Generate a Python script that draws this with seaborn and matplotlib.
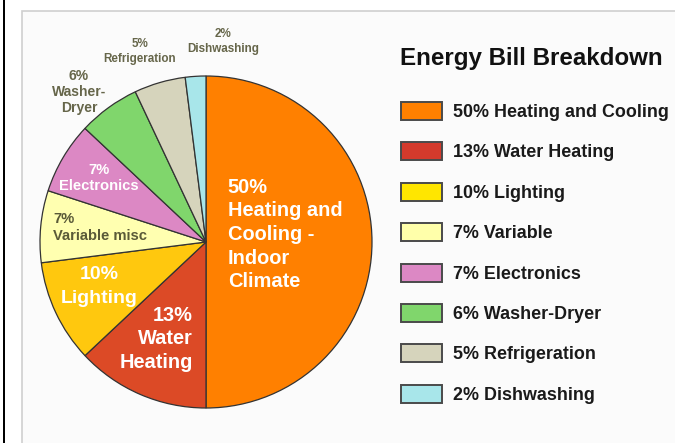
import matplotlib
matplotlib.use("Agg")
import matplotlib.pyplot as plt
from matplotlib.patches import Patch, Rectangle
import seaborn as sns

# data
categories = ["Heating and Cooling", "Water Heating", "Lighting", "Variable",
              "Electronics", "Washer-Dryer", "Refrigeration", "Dishwashing"]
shares = [50, 13, 10, 7, 7, 6, 5, 2]
pie_labels = ["50%\nHeating and\nCooling -\nIndoor\nClimate", "13%\nWater\nHeating",
              "10%\nLighting", "7%\nVariable misc", "7%\nElectronics",
              "6%\nWasher-\nDryer", "5%\nRefrigeration", "2%\nDishwashing"]
legend_labels = ["50% Heating and Cooling", "13% Water Heating", "10% Lighting",
                 "7% Variable", "7% Electronics", "6% Washer-Dryer",
                 "5% Refrigeration", "2% Dishwashing"]
title = "Energy Bill Breakdown"

sns.set_style("white")
plt.rcParams["font.family"] = ["Liberation Sans", "DejaVu Sans"]

pie_colors = sns.color_palette(["#ff8000", "#dc4a26", "#ffc80e", "#ffffb0",
                                "#dc88c4", "#80d66c", "#d6d4bc", "#a8e6ea"])
legend_colors = sns.color_palette(["#ff8000", "#d43a2c", "#ffe600", "#ffffaa",
                                   "#dc88c4", "#80d66c", "#d6d4bc", "#a8e6ea"])

W, H = 675, 443
fig = plt.figure(figsize=(W / 100, H / 100), dpi=100)
fig.patch.set_facecolor("white")

# page frame: gray panel and dark left rule
fig.patches.append(Rectangle((22 / W, -0.05), 1.1, (H - 11) / H + 0.05,
                             transform=fig.transFigure, facecolor="#fbfbfb",
                             edgecolor="#cfcfcf", linewidth=1.2, zorder=-2))
fig.patches.append(Rectangle((3 / W, 0), 2.2 / W, 1, transform=fig.transFigure,
                             facecolor="black", edgecolor="none", zorder=-2))

cx, cy, r = 206, 242, 166
ax = fig.add_axes([(cx - r) / W, (H - cy - r) / H, 2 * r / W, 2 * r / H])
ax.set_facecolor("none")
ax.set_zorder(1)
wedges, _ = ax.pie(shares, colors=pie_colors, startangle=90, counterclock=False,
                   wedgeprops=dict(edgecolor="#333333", linewidth=0.9))
ax.set_xlim(-1, 1)
ax.set_ylim(-1, 1)
ax.axis("off")

# label placement in pie radius units
label_pos = [(0.476, 0.045), (-0.078, -0.584), (-0.641, -0.268), (-0.922, 0.087),
             (-0.647, 0.385), (-0.765, 0.904), (-0.398, 1.15), (0.102, 1.207)]
label_ha = ["center", "right", "center", "left", "center", "center", "center", "center"]
label_ma = ["left", "right", "center", "left", "center", "center", "center", "center"]
label_col = ["white", "white", "white", "#5a5a38", "white", "#66664a", "#66664a", "#66664a"]
label_size = [14.4, 14.4, 14, 10.6, 10.6, 10, 8.4, 8.4]
label_ls = [1.31, 1.32, 1.47, 1.32, 1.25, 1.22, 1.33, 1.35]
for txt, (x, y), ha, ma, c, s, ls in zip(pie_labels, label_pos, label_ha, label_ma,
                                         label_col, label_size, label_ls):
    ax.text(x, y, txt, ha=ha, va="center", multialignment=ma, color=c,
            fontsize=s, fontweight="bold", linespacing=ls, clip_on=False)

fig.text(400 / W, 1 - 58 / H, title, ha="left", va="center", fontsize=17.4,
         fontweight="bold", color="#111111")

handles = [Patch(facecolor=c, edgecolor="#4a4a4a", linewidth=1.4) for c in legend_colors]
fig.legend(handles, legend_labels, loc="upper left",
           bbox_to_anchor=(401 / W, 1 - 102 / H), frameon=False,
           prop=dict(size=12.9, weight="bold"), handlelength=2.29, handleheight=1.17,
           handletextpad=0.62, labelspacing=1.19, borderpad=0, borderaxespad=0,
           labelcolor="#1a1a1a")

fig.savefig("out.png", dpi=100)
